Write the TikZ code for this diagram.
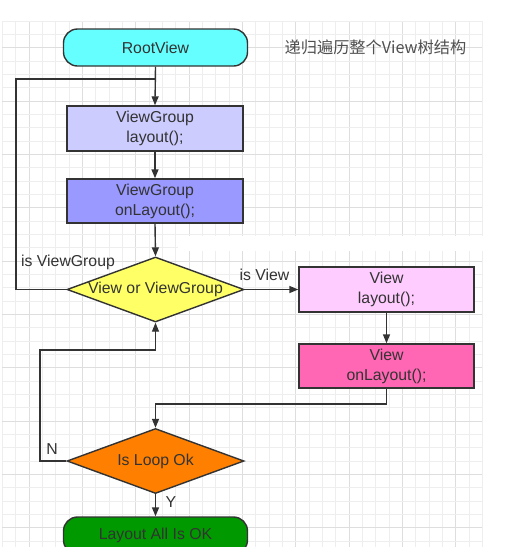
\documentclass[tikz,border=0pt]{standalone}
\usepackage{fontspec}
\setmainfont{Liberation Sans}
\newfontfamily\cjk{Noto Sans CJK SC}
\usetikzlibrary{shapes.geometric,arrows.meta}
\definecolor{ink}{HTML}{333333}
\definecolor{gridminor}{HTML}{EEEEEE}
\definecolor{gridmajor}{HTML}{DEDEDE}
\tikzset{
  every node/.style={font=\fontsize{15.8}{20}\selectfont, text=ink},
  termbox/.style={draw=ink, line width=1.4pt, rectangle, rounded corners=14pt, minimum width=184pt, minimum height=37pt, inner sep=0pt},
  procbox/.style={draw=ink, line width=1.4pt, rectangle, minimum width=176pt, minimum height=45pt, align=center, inner sep=0pt},
  decbox/.style={draw=ink, line width=1.4pt, diamond, minimum width=177pt, minimum height=65pt, inner sep=0pt},
  conn/.style={draw=ink, line width=1.4pt},
  arr/.style={conn, -{Triangle[length=9pt,width=7pt]}},
  lbl/.style={inner sep=0pt}
}
\begin{document}
\begin{tikzpicture}[x=1pt,y=-1pt]
\useasboundingbox (0,0) rectangle (524,547);
\fill[white] (0,0) rectangle (524,547);
% grid
\foreach \i in {0,...,36} {
  \pgfmathsetmacro{\xx}{2.4+13.333*\i}
  \pgfmathtruncatemacro{\m}{mod(\i,4)==2 ? 1 : 0}
  \ifnum\m=1
    \draw[gridmajor, line width=0.8pt] (\xx,21) -- (\xx,547);
  \else
    \draw[gridminor, line width=0.7pt] (\xx,21) -- (\xx,547);
  \fi
}
\foreach \j in {0,...,39} {
  \pgfmathsetmacro{\yy}{21+13.333*\j}
  \pgfmathtruncatemacro{\m}{mod(\j,4)==2 ? 1 : 0}
  \ifnum\m=1
    \draw[gridmajor, line width=0.8pt] (2.4,\yy) -- (482.4,\yy);
  \else
    \draw[gridminor, line width=0.7pt] (2.4,\yy) -- (482.4,\yy);
  \fi
}
\fill[white] (178,236) rectangle (487,251);

% nodes
\node[termbox, fill={rgb,255:red,102;green,255;blue,255}] (root) at (155.5,47.5) {RootView};
\node[procbox, fill={rgb,255:red,204;green,204;blue,255}] (vgl) at (155,128.5) {ViewGroup\\layout();};
\node[procbox, fill={rgb,255:red,153;green,153;blue,255}, minimum height=44pt] (vgo) at (155,201) {ViewGroup\\onLayout();};
\node[decbox, fill={rgb,255:red,255;green,255;blue,102}, label={center:View or ViewGroup}] (d1) at (155.5,289.5) {};
\node[procbox, fill={rgb,255:red,255;green,204;blue,255}, minimum width=175pt] (vl) at (386.5,289.5) {View\\layout();};
\node[procbox, fill={rgb,255:red,255;green,102;blue,179}, minimum width=175pt, minimum height=44pt] (vo) at (386.5,366) {View\\onLayout();};
\node[decbox, fill={rgb,255:red,255;green,128;blue,0}, label={center:Is Loop Ok}] (d2) at (155.5,461) {};
\node[termbox, fill={rgb,255:red,0;green,153;blue,0}] (ok) at (155.5,535.5) {Layout All Is OK};

\node[lbl, text={rgb,255:red,80;green,80;blue,80}, font=\fontsize{16.2}{20}\selectfont] (title) at (375.5,47) {\cjk 递归遍历整个View树结构};

% coordinates
\coordinate (loopL) at (16,79);
\coordinate (loopJ) at (155.5,79);
\coordinate (mergeR) at (386.5,404);
\coordinate (mergeL) at (155.5,404);
\coordinate (nL) at (40,350);
\coordinate (nJ) at (155.5,350);

% connectors
\draw[arr] (root.south) -- (vgl.north);
\draw[conn] (d1.west) -| (loopL) -- (loopJ);
\draw[arr] (vgl.south) -- (vgo.north);
\draw[arr] (vgo.south) -- (d1.north);
\draw[arr] (d1.east) -- (vl.west);
\draw[arr] (vl.south) -- (vo.north);
\draw[arr] (vo.south) -- (mergeR) -- (mergeL) -- (d2.north);
\draw[arr] (d2.west) -| (nL) -- (nJ) -- (d1.south);
\draw[arr] (d2.south) -- (ok.north);

% labels
\node[lbl] (lvg) at (68,262) {is ViewGroup};
\node[lbl] (lv) at (264.5,275) {is View};
\node[lbl] (ln) at (52,449) {N};
\node[lbl] (ly) at (171,502) {Y};
\end{tikzpicture}
\end{document}
